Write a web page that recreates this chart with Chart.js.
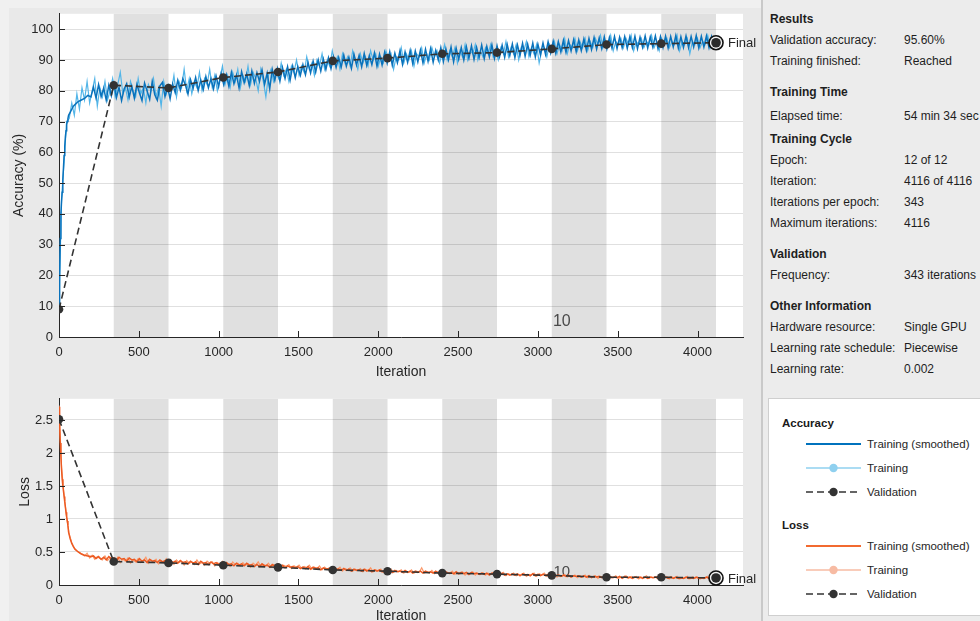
<!DOCTYPE html>
<html><head><meta charset="utf-8">
<script src="https://cdn.jsdelivr.net/npm/chart.js@4.4.1/dist/chart.umd.min.js"></script>
<style>
html,body{margin:0;padding:0;width:980px;height:621px;overflow:hidden;background:#f0f0f0;font-family:"Liberation Sans",Arial,sans-serif;}
#leftbg{position:absolute;left:9px;top:8px;width:752px;height:613px;background:#e9e9e9;}
#sep{position:absolute;left:761px;top:0;width:2px;height:621px;background:#c9c9c9;}
#right{position:absolute;left:763px;top:0;width:217px;height:621px;background:#ececec;}
canvas{position:absolute;left:0;}
#accC{top:0}
#lossC{top:385px}
.t{position:absolute;font-size:12px;color:#1e1e1e;white-space:nowrap;line-height:14px;}
.b{font-weight:bold}
#legend{position:absolute;left:768px;top:398px;width:240px;height:216px;background:#fff;border:1px solid #cfcfcf;}
#legend svg{position:absolute;left:0;top:0;}
</style>
</head><body>
<div id="leftbg"></div>
<div id="right"></div>
<div id="sep"></div>
<canvas id="accC" width="760" height="385"></canvas>
<canvas id="lossC" width="760" height="240"></canvas>
<div id="info"></div>
<div id="legend"><svg width="240" height="216" id="legsvg"></svg></div>
<script>
// ---------------- data ----------------
const itersPerEpoch = 343;
const numEpochs = 12;
const maxIter = 4116;
const rawStep = 16; // training values read every 16 iterations

const accRaw = [
 10,45,57,70,71,76,72,79,74,81,77,83,76,80,84,75,
 81,78,83,77,80,84,78,82,86,79,81,77,83,80,78,84,
 79,81,76,82,80,84,78,81,75,83,79,82,80,85,78,83,
 81,87,80,84,79,83,81,86,80,84,82,87,81,85,80,84,
 88,82,85,81,86,83,87,81,85,83,88,82,86,84,80,87,
 83,78,85,87,83,86,84,89,85,87,83,88,86,90,85,88,
 86,91,87,89,85,90,88,92,87,90,88,93,89,91,87,92,
 89,91,88,93,90,87,92,89,91,88,93,90,92,88,91,89,
 93,90,92,87,91,90,94,89,92,90,93,88,92,91,94,89,
 92,90,94,91,93,89,92,95,90,93,91,94,89,93,91,95,
 90,93,92,95,90,93,91,94,92,95,91,93,90,94,92,96,
 91,94,92,95,90,94,93,96,91,94,92,95,89,93,94,91,
 95,93,96,92,95,93,97,92,95,94,97,93,96,94,97,93,
 96,94,97,95,98,94,96,95,98,93,96,95,97,94,97,95,
 98,93,96,95,97,94,96,95,98,94,96,93,97,95,97,94,
 96,95,98,93,96,95,97,92,96,95,97,94,96,95,98,94,
 96,95
];
const lossRaw = [
 2.72,1.78,1.36,1.02,0.77,0.64,0.56,0.52,0.49,0.47,0.44,0.48,0.41,0.45,0.39,0.43,
 0.40,0.38,0.44,0.37,0.41,0.39,0.36,0.42,0.34,0.39,0.36,0.41,0.33,0.38,0.35,0.40,
 0.34,0.37,0.42,0.33,0.38,0.35,0.39,0.32,0.37,0.34,0.40,0.33,0.36,0.31,0.38,0.34,
 0.36,0.30,0.37,0.33,0.35,0.31,0.38,0.32,0.34,0.30,0.36,0.33,0.35,0.29,0.34,0.31,
 0.36,0.30,0.33,0.28,0.35,0.31,0.33,0.29,0.34,0.30,0.32,0.27,0.33,0.30,0.35,0.28,
 0.31,0.29,0.33,0.27,0.31,0.29,0.32,0.26,0.30,0.28,0.31,0.25,0.29,0.27,0.30,0.25,
 0.28,0.26,0.30,0.24,0.27,0.25,0.29,0.23,0.27,0.24,0.26,0.22,0.26,0.24,0.27,0.21,
 0.25,0.23,0.26,0.21,0.24,0.22,0.25,0.20,0.24,0.22,0.26,0.20,0.23,0.21,0.24,0.19,
 0.22,0.20,0.24,0.19,0.22,0.20,0.23,0.18,0.21,0.19,0.23,0.18,0.21,0.19,0.26,0.18,
 0.20,0.18,0.22,0.17,0.20,0.18,0.21,0.16,0.19,0.17,0.21,0.16,0.19,0.17,0.20,0.15,
 0.18,0.17,0.20,0.15,0.18,0.16,0.19,0.15,0.18,0.16,0.19,0.14,0.17,0.16,0.19,0.14,
 0.17,0.15,0.18,0.14,0.16,0.15,0.18,0.13,0.16,0.15,0.18,0.13,0.17,0.15,0.18,0.13,
 0.16,0.14,0.17,0.12,0.15,0.13,0.16,0.12,0.14,0.13,0.15,0.11,0.14,0.12,0.15,0.11,
 0.13,0.12,0.14,0.10,0.13,0.12,0.14,0.10,0.13,0.11,0.14,0.10,0.12,0.11,0.14,0.10,
 0.13,0.11,0.13,0.09,0.12,0.11,0.14,0.10,0.12,0.11,0.13,0.09,0.12,0.11,0.13,0.09,
 0.12,0.10,0.13,0.09,0.11,0.10,0.13,0.09,0.12,0.10,0.12,0.09,0.11,0.10,0.13,0.09,
 0.11,0.10
];

// smoothed curves: dense start, then every 16 iterations (offset from the raw samples), then the last iteration
const smoothEarlyIters = [0,4,8,12,16,20,24,28,32,36,40,44,48,52,56,60,70,80,90,100,120,140,160,180,200];
const smoothLateStart = 216, smoothLateStep = 16;
const accSmoothEarly = [9,20,32,40,44,47,51,55,59,62,65,67,69,70,71,72,73,74,75,75.5,76.5,77,77.5,78.5,78];
const accSmoothLate = [
 81.2,77.6,82.0,78.1,80.9,76.9,81.8,78.4,82.4,77.8,81.1,76.8,80.6,82.3,77.9,81.4,
 77.6,82.1,79.3,76.8,82.5,79.9,77.2,83.0,78.7,76.9,81.6,82.7,78.1,81.3,77.4,82.2,
 79.4,83.4,80.2,83.9,81.9,78.9,83.6,80.8,84.3,80.1,83.5,80.4,84.6,81.0,83.9,80.6,
 84.8,81.3,85.6,82.0,85.2,81.5,86.0,82.3,85.1,80.9,86.2,82.6,85.5,81.7,86.4,82.4,
 85.9,83.0,86.8,82.1,85.7,80.6,86.9,83.4,87.2,83.1,87.5,84.0,87.8,83.5,88.0,84.3,
 87.9,85.0,88.5,85.2,89.2,85.8,89.6,86.1,90.0,86.4,90.3,86.9,90.7,87.2,91.0,87.6,
 90.8,87.7,91.6,88.0,90.9,87.3,91.8,88.4,91.5,87.8,92.1,88.2,91.4,88.5,92.3,88.0,
 91.9,88.4,92.5,89.0,92.7,88.3,92.2,89.1,93.0,88.6,92.6,89.2,93.1,88.8,92.9,89.4,
 93.2,89.1,93.5,89.6,93.7,89.3,93.1,90.0,94.0,89.5,93.6,90.1,94.2,89.4,93.8,90.2,
 94.0,90.0,94.3,90.6,94.6,90.2,94.1,90.8,94.8,90.4,94.4,91.0,94.9,90.5,94.6,91.1,
 94.8,90.9,95.0,91.4,95.2,90.8,94.9,91.5,95.4,91.2,95.1,91.6,95.5,91.0,95.1,91.7,
 95.5,91.8,95.9,92.3,96.1,92.2,96.0,92.6,96.4,92.5,96.3,92.9,96.6,92.7,96.5,93.0,
 96.8,93.1,97.0,93.4,97.3,93.5,97.1,93.7,97.5,93.6,97.3,93.9,97.6,93.7,97.4,94.0,
 97.6,93.8,97.5,94.0,97.7,93.7,97.4,94.1,97.8,93.9,97.5,94.2,97.8,93.8,97.6,94.1,
 97.7,93.9,97.6,94.2,97.9,93.8,97.5,94.1,97.8,94.0,97.6,94.2,97.9,93.9,97.7,94.2,
 97.8,94.0,97.6,94.3
];
const accSmoothFinal = 95.3;
const lossSmoothEarly = [2.70,2.40,2.15,1.95,1.75,1.60,1.50,1.42,1.34,1.26,1.18,1.10,1.03,0.97,0.90,0.80,0.70,0.63,0.58,0.54,0.50,0.47,0.45,0.44,0.43];
const lossSmoothLate = [
 0.44,0.40,0.43,0.39,0.42,0.38,0.43,0.40,0.41,0.37,0.42,0.39,0.40,0.36,0.41,0.38,
 0.39,0.35,0.40,0.36,0.38,0.34,0.39,0.36,0.37,0.34,0.38,0.35,0.37,0.33,0.38,0.34,
 0.36,0.33,0.37,0.34,0.35,0.32,0.36,0.33,0.35,0.31,0.36,0.33,0.34,0.31,0.35,0.32,
 0.34,0.31,0.33,0.30,0.34,0.31,0.32,0.29,0.33,0.30,0.32,0.29,0.33,0.30,0.31,0.28,
 0.31,0.28,0.32,0.29,0.30,0.27,0.31,0.28,0.29,0.27,0.30,0.26,0.29,0.27,0.28,0.26,
 0.28,0.25,0.27,0.25,0.28,0.24,0.27,0.25,0.26,0.23,0.26,0.24,0.25,0.22,0.25,0.23,
 0.24,0.22,0.25,0.22,0.24,0.21,0.24,0.22,0.23,0.21,0.24,0.21,0.23,0.20,0.23,0.21,
 0.23,0.20,0.22,0.20,0.23,0.19,0.22,0.20,0.21,0.19,0.22,0.19,0.21,0.18,0.21,0.19,
 0.21,0.18,0.21,0.19,0.20,0.18,0.21,0.18,0.20,0.17,0.20,0.18,0.19,0.17,0.20,0.17,
 0.19,0.17,0.19,0.16,0.19,0.17,0.18,0.16,0.18,0.16,0.18,0.15,0.18,0.16,0.17,0.15,
 0.18,0.15,0.17,0.15,0.17,0.15,0.17,0.14,0.17,0.15,0.16,0.14,0.17,0.14,0.16,0.14,
 0.16,0.14,0.16,0.13,0.16,0.14,0.15,0.13,0.15,0.13,0.15,0.12,0.14,0.13,0.14,0.12,
 0.14,0.12,0.14,0.11,0.13,0.12,0.13,0.11,0.13,0.11,0.13,0.11,0.12,0.11,0.13,0.10,
 0.13,0.11,0.12,0.10,0.12,0.11,0.12,0.10,0.12,0.10,0.12,0.11,0.12,0.10,0.12,0.10,
 0.12,0.10,0.12,0.10,0.12,0.10,0.11,0.10,0.12,0.10,0.11,0.10,0.12,0.10,0.11,0.10,
 0.12,0.10,0.11,0.10
];
const lossSmoothFinal = 0.107;

const valIters = [0,343,686,1029,1372,1715,2058,2401,2744,3087,3430,3773,4116];
const valAcc   = [9.0,81.8,80.9,84.3,86.1,89.7,90.6,92.0,92.4,93.6,95.0,95.3,95.6];
const valLoss  = [2.51,0.355,0.335,0.30,0.267,0.228,0.209,0.18,0.165,0.146,0.117,0.117,0.107];

const xTicks = [0,500,1000,1500,2000,2500,3000,3500,4000];
const accTicks = [0,10,20,30,40,50,60,70,80,90,100];
const lossTicks = [0,0.5,1,1.5,2,2.5];
const lossTickLabels = ['0','0.5','1','1.5','2','2.5'];

const infoRows = [
 ['Results', null, 19, true],
 ['Validation accuracy:', '95.60%', 40],
 ['Training finished:', 'Reached', 61],
 ['Training Time', null, 92, true],
 ['Elapsed time:', '54 min 34 sec', 116],
 ['Training Cycle', null, 139, true],
 ['Epoch:', '12 of 12', 160],
 ['Iteration:', '4116 of 4116', 181],
 ['Iterations per epoch:', '343', 202],
 ['Maximum iterations:', '4116', 223],
 ['Validation', null, 254, true],
 ['Frequency:', '343 iterations', 275],
 ['Other Information', null, 306, true],
 ['Hardware resource:', 'Single GPU', 327],
 ['Learning rate schedule:', 'Piecewise', 348],
 ['Learning rate:', '0.002', 369]
];

// ---------------- build ----------------
Chart.defaults.font.family = '"Liberation Sans", Arial, sans-serif';
Chart.defaults.color = '#262626';

const rawPts = arr => arr.map((v,i)=>({x:i*rawStep, y:v}));
function smoothPts(early, late, fin){
  const pts = early.map((v,i)=>({x:smoothEarlyIters[i], y:v}));
  late.forEach((v,i)=>pts.push({x:smoothLateStart+i*smoothLateStep, y:v}));
  pts.push({x:maxIter, y:fin});
  return pts;
}
const valPts = arr => arr.map((v,i)=>({x:valIters[i], y:v}));

const bandsPlugin = {
  id:'bands',
  beforeDraw(chart){
    const {ctx, chartArea:a, scales:{x}} = chart;
    ctx.save();
    ctx.fillStyle='#ffffff';
    ctx.fillRect(a.left,a.top,a.right-a.left,a.bottom-a.top);
    ctx.fillStyle='#e0e0e0';
    for(let e=1;e<numEpochs;e+=2){
      const x0=x.getPixelForValue(e*itersPerEpoch);
      const x1=x.getPixelForValue(Math.min((e+1)*itersPerEpoch,maxIter));
      ctx.fillRect(x0,a.top,x1-x0,a.bottom-a.top);
    }
    ctx.restore();
  }
};

function decoPlugin(vals, tenPos, tenSize){
  return {
    id:'deco',
    beforeDatasetsDraw(chart){
      const {ctx, scales:{x,y}} = chart;
      ctx.save();
      ctx.fillStyle='#4a4a4a';
      ctx.font = tenSize+'px "Liberation Sans", Arial, sans-serif';
      ctx.textAlign='center'; ctx.textBaseline='middle';
      ctx.fillText('10', x.getPixelForValue(tenPos[0]), y.getPixelForValue(tenPos[1]));
      ctx.restore();
    },
    afterDraw(chart){
      const {ctx, chartArea:a, scales:{x,y}} = chart;
      ctx.save();
      ctx.strokeStyle='#262626'; ctx.lineWidth=1;
      x.ticks.forEach(t=>{const px=Math.round(x.getPixelForValue(t.value))+0.5;
        ctx.beginPath(); ctx.moveTo(px,a.bottom); ctx.lineTo(px,a.bottom-6); ctx.stroke();});
      y.ticks.forEach(t=>{const py=Math.round(y.getPixelForValue(t.value))+0.5;
        ctx.beginPath(); ctx.moveTo(a.left,py); ctx.lineTo(a.left+6,py); ctx.stroke();});
      const n = valIters.length-1;
      const fx=x.getPixelForValue(valIters[n]), fy=y.getPixelForValue(vals[n]);
      ctx.beginPath(); ctx.arc(fx,fy,6.5,0,2*Math.PI); ctx.fillStyle='#f4f4f4'; ctx.fill();
      ctx.beginPath(); ctx.arc(fx,fy,4.8,0,2*Math.PI); ctx.fillStyle='#2b2b2b'; ctx.fill();
      ctx.beginPath(); ctx.arc(fx,fy,7,0,2*Math.PI); ctx.lineWidth=1.6; ctx.strokeStyle='#111'; ctx.stroke();
      ctx.fillStyle='#262626'; ctx.font='13px "Liberation Sans", Arial, sans-serif';
      ctx.textAlign='left'; ctx.textBaseline='middle';
      ctx.fillText('Final', fx+12, fy+1);
      ctx.restore();
    }
  };
}

function makeChart(id, cfg){
  const yTickList = cfg.yTicks;
  return new Chart(document.getElementById(id), {
    type:'line',
    data:{datasets:[
      {data:valPts(cfg.val), borderColor:'#333333', borderWidth:1.6, borderDash:[7,4],
       pointRadius:4.3, pointBackgroundColor:'#333333', pointBorderWidth:0, tension:0},
      {data:cfg.smooth, borderColor:cfg.smoothColor, borderWidth:cfg.smoothWidth, pointRadius:0, tension:0},
      {data:rawPts(cfg.raw), borderColor:cfg.rawColor, borderWidth:cfg.rawWidth, pointRadius:0, tension:0}
    ]},
    options:{
      responsive:false, animation:false, events:[],
      layout:{padding:{left:0, top:cfg.padTop, right:17, bottom:0}},
      plugins:{legend:{display:false}, tooltip:{enabled:false}},
      scales:{
        x:{type:'linear', min:0, max:4285,
          afterFit:s=>{s.height=cfg.xHeight;},
          afterBuildTicks:s=>{s.ticks = xTicks.map(v=>({value:v}));},
          ticks:{font:{size:13}, color:'#262626', padding:8, maxRotation:0, autoSkip:false,
                 callback:v=>String(v)},
          grid:{display:false, drawTicks:false},
          border:{display:true, color:'#262626', width:1},
          title:{display:true, text:'Iteration', font:{size:14}, color:'#262626', padding:{top:0,bottom:cfg.xTitlePad}}
        },
        y:{type:'linear', min:0, max:cfg.yMax,
          afterFit:s=>{s.width=59;},
          afterBuildTicks:s=>{s.ticks = yTickList.map(v=>({value:v}));},
          ticks:{font:{size:13}, color:'#262626', padding:6, autoSkip:false,
                 callback:(v)=>cfg.yLabel(v)},
          grid:{color:'rgba(0,0,0,0.12)', drawTicks:false, lineWidth:1},
          border:{display:true, color:'#262626', width:1},
          title:{display:true, text:cfg.yTitle, font:{size:14}, color:'#262626', padding:{top:cfg.yTitlePad,bottom:0}}
        }
      }
    },
    plugins:[bandsPlugin, decoPlugin(cfg.val, cfg.tenPos, cfg.tenSize)]
  });
}

makeChart('accC', {
  val:valAcc, raw:accRaw, smooth:smoothPts(accSmoothEarly, accSmoothLate, accSmoothFinal),
  smoothColor:'#0a72bb', rawColor:'#52b5e8', smoothWidth:1.5, rawWidth:1.2, yMax:105, yTicks:accTicks,
  yLabel:v=>String(v), yTitle:'Accuracy (%)', padTop:10, xHeight:48, xTitlePad:4, yTitlePad:10.5,
  tenPos:[3150,5.1], tenSize:16
});
makeChart('lossC', {
  val:valLoss, raw:lossRaw, smooth:smoothPts(lossSmoothEarly, lossSmoothLate, lossSmoothFinal),
  smoothColor:'#ec5a22', rawColor:'#fb9a6c', smoothWidth:1.5, rawWidth:1.2, yMax:2.82, yTicks:lossTicks,
  yLabel:v=>lossTickLabels[lossTicks.indexOf(v)], yTitle:'Loss', padTop:6, xHeight:40, xTitlePad:0, yTitlePad:16.5,
  tenPos:[3150,0.2], tenSize:15
});

// ---------------- info panel ----------------
const info = document.getElementById('info');
infoRows.forEach(r=>{
  const d = document.createElement('div');
  d.className = 't' + (r[3] ? ' b' : '');
  d.style.left='770px'; d.style.top=(r[2]-7)+'px';
  d.textContent = r[0];
  info.appendChild(d);
  if(r[1]){
    const v = document.createElement('div');
    v.className='t'; v.style.left='904px'; v.style.top=(r[2]-7)+'px';
    v.textContent = r[1];
    info.appendChild(v);
  }
});

// ---------------- legend ----------------
const legendGroups = [
  {title:'Accuracy', y:24, items:[
    {label:'Training (smoothed)', color:'#0072BD', marker:null, dash:null, w:2},
    {label:'Training', color:'#8fd0ef', marker:'#8fd0ef', dash:null, w:1.5},
    {label:'Validation', color:'#333333', marker:'#333333', dash:'7,4', w:1.6}
  ]},
  {title:'Loss', y:126, items:[
    {label:'Training (smoothed)', color:'#f26a30', marker:null, dash:null, w:2},
    {label:'Training', color:'#f7bba3', marker:'#f7bba3', dash:null, w:1.5},
    {label:'Validation', color:'#333333', marker:'#333333', dash:'7,4', w:1.6}
  ]}
];
const ns='http://www.w3.org/2000/svg';
const svg=document.getElementById('legsvg');
function el(tag, attrs, text){const e=document.createElementNS(ns,tag);for(const k in attrs)e.setAttribute(k,attrs[k]);if(text)e.textContent=text;svg.appendChild(e);return e;}
const rowOffsets=[21,45,69];
legendGroups.forEach(g=>{
  el('text',{x:13,y:g.y+4,'font-size':'11.5','font-weight':'bold','font-family':'Liberation Sans, Arial, sans-serif',fill:'#1a1a1a'},g.title);
  g.items.forEach((it,i)=>{
    const yy=g.y+rowOffsets[i];
    const a={x1:37,x2:92,y1:yy,y2:yy,stroke:it.color,'stroke-width':it.w};
    if(it.dash)a['stroke-dasharray']=it.dash;
    el('line',a);
    if(it.marker)el('circle',{cx:64.5,cy:yy,r:4.2,fill:it.marker});
    el('text',{x:98,y:yy+4,'font-size':'11.5','font-family':'Liberation Sans, Arial, sans-serif',fill:'#262626'},it.label);
  });
});
</script>
</body></html>
